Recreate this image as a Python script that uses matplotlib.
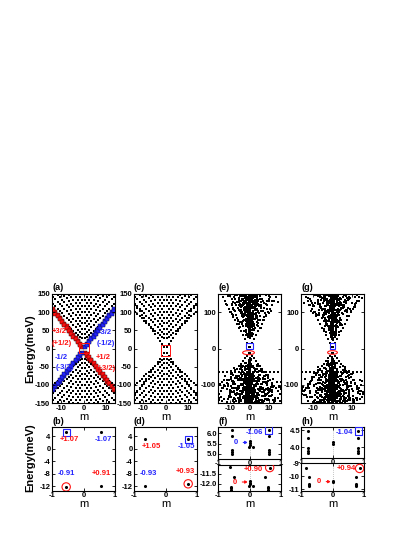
import numpy as np
import matplotlib
matplotlib.use("Agg")
import matplotlib.pyplot as plt
from matplotlib.patches import Rectangle, Ellipse

plt.rcParams["font.family"] = ["Liberation Sans", "DejaVu Sans"]
plt.rcParams["font.weight"] = "bold"
plt.rcParams["axes.unicode_minus"] = False

RED = "#ff1010"
BLUE = "#2424ff"

# ---------------- data ----------------
m_clean = np.arange(-13.5, 14.0, 1.0)      # half-integer m shown in (a),(c)
m_dis = np.arange(-17.5, 18.0, 1.0)        # m used for disordered (e),(g)

bulk_gap = 25.0          # meV, lowest bulk level ~28 meV at m=+-1/2
bulk_scale = 5.44        # meV per Bessel-zero unit (arc spacing ~8.5 meV)
bulk_scale_low_dis = 4.8
E_top = 152.0

# edge branches: energy at m=-+1/2 and slope (meV / unit m)
edge_a_upper, edge_a_lower, edge_a_slope, edge_a_split = 5.3, -12.0, 7.9, 4.0
edge_c_upper, edge_c_lower, edge_c_slope = 3.1, -11.5, 9.0
edge_e_upper, edge_e_lower, edge_e_slope_up, edge_e_slope_low = 5.0, -12.0, 10.5, 7.5
flat_row_E = -64.0
flat_row_m = np.arange(-15.5, 16.0, 2.0)

dis_factors = [0.05, 0.9, 0.3, 1.1, 0.55, 0.15, 0.95, 0.45, 0.7, 0.02,
               1.2, 0.38, 0.8, 0.1, 0.25, 0.65, 1.0]
dis_shifts = [0.0, 2.5, -1.5, 4.0, -3.0, 1.0, -4.5]
dis_compress_top, dis_compress_bottom = 0.72, 1.0

# panel (b)
b_m = [-0.55, 0.55, -0.55, 0.55]
b_E = [5.3, 5.3, -12.2, -12.0]
# panel (d)
d_m = [-0.66, 0.72, -0.66, 0.72]
d_E = [3.0, 3.0, -12.0, -11.2]
# panel (f) upper / lower
f_top_m = [-0.55] * 5 + [0.02, 0.02, 0.02, -0.03, 0.10] + [0.61] * 5
f_top_E = [6.17, 5.88, 5.20, 5.08, 5.00, 5.62, 5.52, 5.42, 5.33, 5.33,
           6.15, 5.84, 5.20, 5.08, 5.00]
f_bot_m = [-0.62, -0.50, -0.60, -0.60, -0.60, 0.02, 0.02, 0.02, -0.03, 0.10,
           0.64, 0.50, 0.60, 0.60, 0.60]
f_bot_E = [-11.16, -11.65, -12.15, -12.22, -12.28, -11.85, -11.93, -12.00, -12.08, -12.08,
           -11.18, -11.65, -12.15, -12.22, -12.28]
# panel (h) upper / lower
h_top_m = [-0.78] * 5 + [0.02, 0.02] + [0.82] * 5
h_top_E = [4.48, 4.27, 3.97, 3.89, 3.83, 4.15, 4.09, 4.48, 4.27, 3.97, 3.89, 3.83]
h_bot_m = [-0.84, -0.76, -0.76, -0.76, -0.76, 0.02, 0.02, 0.86, 0.76, 0.76, 0.76, 0.76]
h_bot_E = [-9.38, -10.05, -10.60, -10.70, -10.78, -10.40, -10.47,
           -9.42, -10.05, -10.60, -10.70, -10.78]


# ---------------- helpers ----------------
tau = np.linspace(0, np.pi, 401)
xgrid = np.arange(0.05, 33.0, 0.02)
_zero_cache = {}


def bessel_zeros(n):
    if n not in _zero_cache:
        y = np.trapezoid(np.cos(n * tau[None, :] - xgrid[:, None] * np.sin(tau[None, :])),
                         tau, axis=1) / np.pi
        idx = np.where(np.sign(y[:-1]) != np.sign(y[1:]))[0]
        z = xgrid[idx] - y[idx] * (xgrid[idx + 1] - xgrid[idx]) / (y[idx + 1] - y[idx])
        _zero_cache[n] = z[z > n + 0.5]
    return _zero_cache[n]


def clean_bulk():
    mm, ee = [], []
    for m in m_clean:
        nu = int(round(abs(m) - 0.5))
        for j in bessel_zeros(nu):
            E = np.sqrt(bulk_gap ** 2 + (bulk_scale * j) ** 2)
            if E <= E_top:
                mm += [m, m]
                ee += [E, -E]
    return np.array(mm), np.array(ee)


def disordered(k0):
    mm, ee = [], []
    k = k0
    for m in m_dis:
        for nu in (abs(m) - 0.5, abs(m) + 0.5, abs(m) + 1.5):
            for j in bessel_zeros(int(round(nu))):
                for sgn, sc, cp in ((1, bulk_scale, dis_compress_top),
                                    (-1, bulk_scale_low_dis, dis_compress_bottom)):
                    E = sgn * np.sqrt(bulk_gap ** 2 + (sc * j) ** 2)
                    if abs(E) > E_top:
                        continue
                    mm.append(m * cp * dis_factors[k % len(dis_factors)])
                    ee.append(E + dis_shifts[k % len(dis_shifts)])
                    k += 1
    return np.array(mm), np.array(ee)


def style(ax, xt, yt, xlim, ylim, yfmt=None, pad=1.5):
    ax.set_xlim(*xlim)
    ax.set_ylim(*ylim)
    ax.set_xticks(xt)
    ax.set_yticks(yt)
    if yfmt:
        ax.set_yticklabels([yfmt.format(v) for v in yt])
    ax.tick_params(direction="in", length=2, width=0.6, labelsize=5.5, pad=pad,
                   top=True, right=True)
    for s in ax.spines.values():
        s.set_linewidth(0.8)


W, H = 415, 537
fig = plt.figure(figsize=(W / 100, H / 100), dpi=100)


def axes_px(x, y0, w, y1):
    return fig.add_axes([x / W, 1 - y1 / H, w / W, (y1 - y0) / H])


lefts = [52, 134, 218, 301]
PW = 63
ax_a = axes_px(lefts[0], 294, PW, 403)
ax_c = axes_px(lefts[1], 294, PW, 403)
ax_e = axes_px(lefts[2], 294, PW, 403)
ax_g = axes_px(lefts[3], 294, PW, 403)

SQ = dict(marker="s", s=2.2, c="k", linewidths=0)
SQD = dict(marker="s", s=3.0, c="k", linewidths=0)

# ---- (a)
bm, be = clean_bulk()
ax_a.scatter(bm, be, **SQ)
mneg = m_clean[m_clean < 0]
mpos = m_clean[m_clean > 0]
red_up = edge_a_upper - edge_a_slope * (mneg + 0.5)
red_dn = edge_a_lower - edge_a_slope * (mpos - 0.5)
blue_up = edge_a_upper + edge_a_slope * (mpos - 0.5)
blue_dn = edge_a_lower + edge_a_slope * (mneg + 0.5)
EK = dict(marker="s", s=5, linewidths=0.3, edgecolors="#300000")
ax_a.scatter(mneg, red_up, c=RED, **EK)
ax_a.scatter(mneg[:-1], red_up[:-1] - edge_a_split, c=RED, **EK)
ax_a.scatter(mpos, red_dn, c=RED, **EK)
ax_a.scatter(mpos[1:], red_dn[1:] + edge_a_split, c=RED, **EK)
EKb = dict(marker="s", s=5, linewidths=0.3, edgecolors="#000030")
ax_a.scatter(mpos, blue_up, c=BLUE, **EKb)
ax_a.scatter(mpos[1:], blue_up[1:] - edge_a_split, c=BLUE, **EKb)
ax_a.scatter(mneg, blue_dn, c=BLUE, **EKb)
ax_a.scatter(mneg[:-1], blue_dn[:-1] + edge_a_split, c=BLUE, **EKb)
ax_a.add_patch(Rectangle((-2.1, -13.5), 4.4, 28, fill=False, ec=RED, lw=0.7, zorder=5))
for t, x, y, col in [("+3/2", -11.0, 47, RED), ("(+1/2)", -9.7, 15, RED),
                     ("-3/2", 9.5, 45, BLUE), ("(-1/2)", 9.9, 15, BLUE),
                     ("-1/2", -10.0, -26, BLUE), ("(-3/2)", -8.5, -53, BLUE),
                     ("+1/2", 8.6, -25, RED), ("(+3/2)", 10.0, -54, RED)]:
    ax_a.text(x, y, t, color=col, fontsize=5.5, ha="center", va="center", zorder=6)
style(ax_a, [-10, 0, 10], np.arange(-150, 151, 50), (-14, 14), (-150, 150))

# ---- (c)
ax_c.scatter(bm, be, **SQ)
c_edges_m = np.concatenate([mneg, mpos, mneg, mpos])
c_edges_E = np.concatenate([edge_c_upper - edge_c_slope * (mneg + 0.5),
                            edge_c_upper + edge_c_slope * (mpos - 0.5),
                            edge_c_lower + edge_c_slope * (mneg + 0.5),
                            edge_c_lower - edge_c_slope * (mpos - 0.5)])
ax_c.scatter(c_edges_m, c_edges_E, **SQ)
ax_c.add_patch(Rectangle((-2.0, -20), 4.0, 29, fill=False, ec=RED, lw=0.7, zorder=5))
style(ax_c, [-10, 0, 10], np.arange(-150, 151, 50), (-14, 14), (-150, 150))


# ---- (e), (g)
def draw_dis(ax, k0, rect, ell):
    dm, de = disordered(k0)
    ax.scatter(dm, de, **SQD)
    mu = np.arange(0.5, 15.0, 1.0)
    ml = np.arange(0.5, 16.0, 1.0)
    eu = edge_e_upper + edge_e_slope_up * (mu - 0.5)
    el = edge_e_lower - edge_e_slope_low * (ml - 0.5)
    ax.scatter(np.concatenate([mu, -mu, ml, -ml]), np.concatenate([eu, eu, el, el]), **SQ)
    ax.scatter(flat_row_m, np.full_like(flat_row_m, flat_row_E), **SQ)
    ax.add_patch(Rectangle(rect[:2], rect[2], rect[3], fill=False, ec=BLUE, lw=0.8, zorder=5))
    ax.add_patch(Ellipse(ell[:2], ell[2], ell[3], fill=False, ec=RED, lw=0.8, zorder=5))
    style(ax, [-10, 0, 10], [-100, 0, 100], (-16, 16), (-150, 150))


draw_dis(ax_e, 0, (-1.7, 0, 3.4, 14.5), (-0.5, -11.5, 6, 11))
draw_dis(ax_g, 6, (-1.3, 0, 2.6, 14.0), (0.0, -11.0, 5, 10))

for ax in (ax_a, ax_c, ax_e, ax_g):
    ax.set_xlabel("m", fontsize=8, labelpad=0)

for ax, lab in zip((ax_a, ax_c, ax_e, ax_g), ("(a)", "(c)", "(e)", "(g)")):
    ax.text(0.0, 1.02, lab, transform=ax.transAxes, fontsize=6.5, ha="left", va="bottom")

# ---------------- bottom row ----------------
ax_b = axes_px(lefts[0], 427, PW, 491)
ax_d = axes_px(lefts[1], 427, PW, 491)
ax_f1 = axes_px(lefts[2], 427, PW, 459)
ax_f2 = axes_px(lefts[2], 465, PW, 491)
ax_h1 = axes_px(lefts[3], 427, PW, 458)
ax_h2 = axes_px(lefts[3], 463, PW, 491)

DOT = dict(marker="o", s=5, c="k", linewidths=0, zorder=3)
BSQ = dict(marker="s", s=28, facecolors="none", edgecolors=BLUE, linewidths=0.8, zorder=4)
RCI = dict(marker="o", s=36, facecolors="none", edgecolors=RED, linewidths=0.8, zorder=4)
TXT = dict(fontsize=5.5, ha="center", va="center", zorder=6)
ARW = dict(arrowstyle="-|>,head_length=0.25,head_width=0.15", lw=0.8, shrinkA=1.5, shrinkB=0)

# (b)
ax_b.scatter(b_m, b_E, **DOT)
ax_b.scatter([b_m[0]], [b_E[0]], **BSQ)
ax_b.scatter([b_m[2]], [b_E[2]], **RCI)
ax_b.text(-0.46, 3.0, "+1.07", color=RED, **TXT)
ax_b.text(0.63, 3.0, "-1.07", color=BLUE, **TXT)
ax_b.text(-0.53, -8.0, "-0.91", color=BLUE, **TXT)
ax_b.text(0.56, -8.0, "+0.91", color=RED, **TXT)
style(ax_b, [-1, 0, 1], [-12, -8, -4, 0, 4], (-1, 1), (-13.5, 7), pad=1.0)

# (d)
ax_d.scatter(d_m, d_E, **DOT)
ax_d.scatter([d_m[1]], [d_E[1]], **BSQ)
ax_d.scatter([d_m[3]], [d_E[3]], **RCI)
ax_d.text(-0.44, 0.6, "+1.05", color=RED, **TXT)
ax_d.text(0.66, 0.6, "-1.05", color=BLUE, **TXT)
ax_d.text(-0.53, -8.0, "-0.93", color=BLUE, **TXT)
ax_d.text(0.64, -7.1, "+0.93", color=RED, **TXT)
style(ax_d, [-1, 0, 1], [-12, -8, -4, 0, 4], (-1, 1), (-13.5, 7), pad=1.0)

# (f)
for ax in (ax_f1, ax_f2, ax_h1, ax_h2):
    ax.axvline(0, color="#b0b0b0", lw=0.6, ls=(0, (1, 1.5)), zorder=1)
ax_f1.scatter(f_top_m, f_top_E, **DOT)
ax_f1.scatter([f_top_m[10]], [f_top_E[10]], **BSQ)
ax_f1.text(0.16, 6.02, "-1.06", color=BLUE, **TXT)
ax_f1.annotate("0", xy=(-0.06, 5.55), xytext=(-0.42, 5.55), color=BLUE, fontsize=5.5,
               ha="center", va="center", arrowprops=dict(color=BLUE, **ARW))
style(ax_f1, [-1, 0, 1], [5.0, 5.5, 6.0], (-1, 1), (4.75, 6.3), "{:.1f}", pad=0.6)
ax_f2.scatter(f_bot_m, f_bot_E, **DOT)
ax_f2.scatter([f_bot_m[10]], [f_bot_E[10]], **RCI)
ax_f2.text(0.11, -11.27, "+0.90", color=RED, **TXT)
ax_f2.annotate("0", xy=(-0.06, -11.9), xytext=(-0.45, -11.9), color=RED, fontsize=5.5,
               ha="center", va="center", arrowprops=dict(color=RED, **ARW))
style(ax_f2, [-1, 0, 1], [-12.0, -11.5], (-1, 1), (-12.35, -11.05), "{:.1f}", pad=1.0)

# (h)
ax_h1.scatter(h_top_m, h_top_E, **DOT)
ax_h1.scatter([h_top_m[7]], [h_top_E[7]], **BSQ)
ax_h1.text(0.37, 4.45, "-1.04", color=BLUE, **TXT)
style(ax_h1, [-1, 0, 1], [4.0, 4.5], (-1, 1), (3.68, 4.6), "{:.1f}", pad=0.6)
ax_h2.scatter(h_bot_m, h_bot_E, **DOT)
ax_h2.scatter([h_bot_m[7]], [h_bot_E[7]], **RCI)
ax_h2.text(0.45, -9.45, "+0.94", color=RED, **TXT)
ax_h2.annotate("0", xy=(-0.06, -10.43), xytext=(-0.42, -10.43), color=RED, fontsize=5.5,
               ha="center", va="center", arrowprops=dict(color=RED, **ARW))
style(ax_h2, [-1, 0, 1], [-11, -10, -9], (-1, 1), (-11.15, -9.0), pad=1.0)

for ax in (ax_b, ax_d, ax_f2, ax_h2):
    ax.set_xlabel("m", fontsize=8, labelpad=0)
for ax, lab in zip((ax_b, ax_d, ax_f1, ax_h1), ("(b)", "(d)", "(f)", "(h)")):
    ax.text(0.0, 1.02, lab, transform=ax.transAxes, fontsize=6.5, ha="left", va="bottom")

fig.text(30 / W, 1 - 348.5 / H, "Energy(meV)", rotation=90, fontsize=8, ha="center", va="center")
fig.text(30 / W, 1 - 458 / H, "Energy(meV)", rotation=90, fontsize=8, ha="center", va="center")

fig.savefig("out.png", dpi=100)
